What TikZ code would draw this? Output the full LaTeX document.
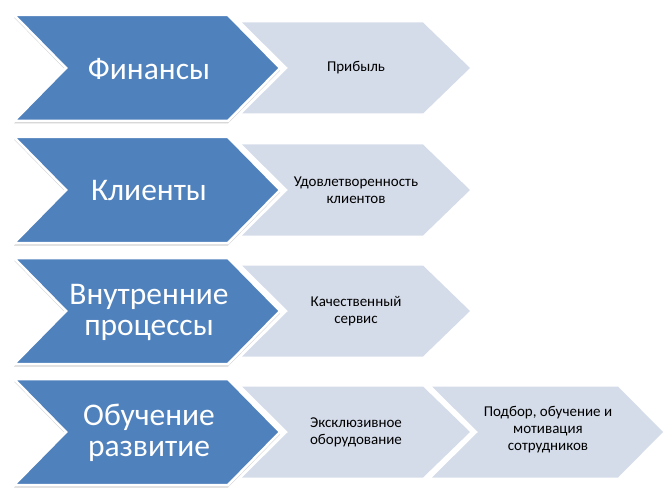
\documentclass[tikz,border=0pt]{standalone}
\usepackage{fontspec}
\setmainfont{Carlito}
\usetikzlibrary{shadows}
\definecolor{chevblue}{HTML}{4F81BD}
\definecolor{chevpale}{HTML}{D4DBE9}

\begin{document}
\begin{tikzpicture}[
  x=1pt, y=-1pt,
  bluechev/.style={fill=chevblue, draw=white, line width=2.5pt, line join=miter,
    drop shadow={shadow xshift=0pt, shadow yshift=-2.5pt, opacity=0.25, fill=black!70}},
  palechev/.style={fill=chevpale},
  bigtext/.style={text=white, font=\fontsize{31.5}{31}\selectfont, align=center},
  smalltext/.style={text=black, font=\fontsize{15}{17}\selectfont, align=center}
]
  \useasboundingbox (0,0) rectangle (666,497);

  % one blue chevron and one pale chevron per row
  \foreach \cy in {68,190,311,432} {
    \begin{scope}[shift={(0,\cy)}]
      \path[palechev] (242,-45.5) -- (423,-45.5) -- (470,0) -- (423,45.5)
        -- (242,45.5) -- (288,0) -- cycle;
      \path[bluechev] (14,-53) -- (228,-53) -- (280,0) -- (228,53)
        -- (14,53) -- (66,0) -- cycle;
    \end{scope}
  }
  % extra pale chevron in the last row
  \path[palechev] (432,386.5) -- (618,386.5) -- (663,432) -- (618,477.5)
    -- (432,477.5) -- (478,432) -- cycle;

  % perspectives
  \node[bigtext] (fin)  at (149,69)  {Финансы};
  \node[bigtext] (cli)  at (149,191) {Клиенты};
  \node[bigtext] (proc) at (149,312) {Внутренние\\процессы};
  \node[bigtext] (edu)  at (149,433) {Обучение\\развитие};

  % goals
  \node[smalltext] (profit)  at (356,68)  {Прибыль};
  \node[smalltext] (satisf)  at (356,190) {Удовлетворенность\\клиентов};
  \node[smalltext] (service) at (356,311) {Качественный\\сервис};
  \node[smalltext] (equip)   at (356,432) {Эксклюзивное\\оборудование};
  \node[smalltext] (staff)   at (548,430) {Подбор, обучение и\\мотивация\\сотрудников};
\end{tikzpicture}
\end{document}
